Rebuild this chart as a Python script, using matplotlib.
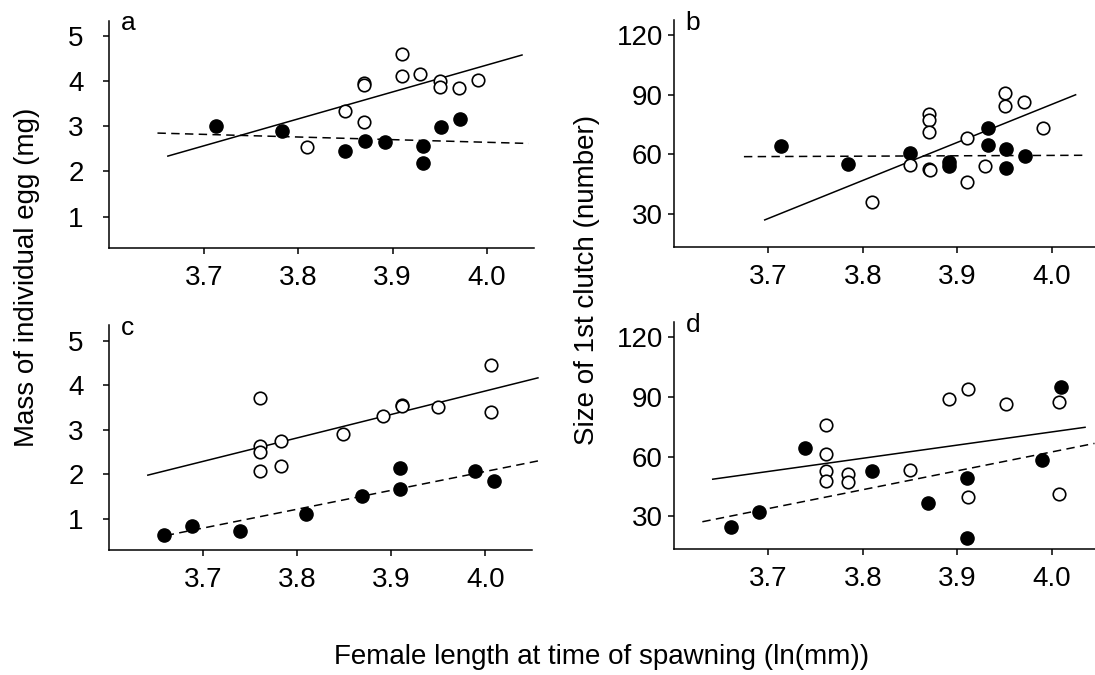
import matplotlib
matplotlib.use('Agg')
import matplotlib.pyplot as plt

plt.rcParams['font.family'] = ['Liberation Sans', 'DejaVu Sans']

# values
a_open_x = [3.809, 3.850, 3.870, 3.870, 3.870, 3.910, 3.910, 3.929, 3.950, 3.950, 3.970, 3.990]
a_open_y = [2.55, 3.34, 3.10, 3.97, 3.92, 4.61, 4.12, 4.15, 4.00, 3.87, 3.84, 4.03]
a_fill_x = [3.713, 3.783, 3.850, 3.871, 3.892, 3.932, 3.932, 3.951, 3.971]
a_fill_y = [3.00, 2.90, 2.45, 2.68, 2.66, 2.57, 2.18, 2.99, 3.16]
a_fit_open = ([3.662, 4.037], [2.34, 4.58])
a_fit_fill = ([3.651, 4.044], [2.85, 2.62])

b_open_x = [3.810, 3.850, 3.870, 3.870, 3.870, 3.870, 3.871, 3.910, 3.910, 3.929, 3.950, 3.950, 3.970, 3.990]
b_open_y = [36.2, 54.9, 80.4, 77.4, 71.3, 52.7, 52.3, 68.1, 46.0, 54.4, 90.8, 84.4, 86.4, 73.3]
b_fill_x = [3.713, 3.784, 3.850, 3.891, 3.891, 3.932, 3.932, 3.951, 3.951, 3.971]
b_fill_y = [64.3, 55.0, 60.7, 56.4, 54.4, 73.5, 64.9, 62.6, 53.0, 59.1]
b_fit_open = ([3.696, 4.025], [27.0, 90.1])
b_fit_fill = ([3.674, 4.036], [58.9, 59.6])

c_open_x = [3.760, 3.760, 3.760, 3.760, 3.783, 3.783, 3.849, 3.891, 3.911, 3.911, 3.950, 4.006, 4.006]
c_open_y = [3.71, 2.64, 2.50, 2.07, 2.74, 2.18, 2.91, 3.32, 3.57, 3.54, 3.51, 4.45, 3.40]
c_fill_x = [3.658, 3.688, 3.739, 3.809, 3.869, 3.909, 3.909, 3.989, 4.009]
c_fill_y = [0.63, 0.84, 0.73, 1.11, 1.52, 2.13, 1.66, 2.08, 1.85]
c_fit_open = ([3.641, 4.056], [1.98, 4.17])
c_fit_fill = ([3.660, 4.056], [0.62, 2.30])

d_open_x = [3.761, 3.761, 3.761, 3.761, 3.784, 3.784, 3.850, 3.891, 3.911, 3.911, 3.951, 4.007, 4.007]
d_open_y = [76.0, 61.1, 52.5, 47.8, 51.3, 47.3, 53.2, 88.9, 94.1, 39.6, 86.4, 87.3, 41.4]
d_fill_x = [3.660, 3.690, 3.739, 3.810, 3.869, 3.910, 3.910, 3.989, 4.010]
d_fill_y = [24.5, 32.2, 64.3, 52.5, 36.4, 49.3, 18.8, 58.4, 94.8]
d_fit_open = ([3.641, 4.035], [48.6, 74.7])
d_fit_fill = ([3.630, 4.045], [27.2, 66.6])

x_ticks = [3.7, 3.8, 3.9, 4.0]
mass_ticks = [1, 2, 3, 4, 5]
clutch_ticks = [30, 60, 90, 120]

W, H = 1095, 675
fig = plt.figure(figsize=(W / 100, H / 100), dpi=100)


def rect(l, r, t, b):
    return [l / W, 1 - b / H, (r - l) / W, (b - t) / H]


def panel(box, letter, ox, oy, fx, fy, fit_o, fit_f, yticks, ylim, xmax, ypad, lx, ly):
    ax = fig.add_axes(rect(*box))
    ax.plot(*fit_o, color='black', lw=1.1, clip_on=False)
    ax.plot(*fit_f, color='black', lw=1.1, ls=(0, (5.5, 3.5)), clip_on=False)
    ax.plot(fx, fy, 'o', ms=9.5, mfc='black', mec='black', clip_on=False)
    ax.plot(ox, oy, 'o', ms=9, mfc='white', mec='black', mew=1.2, clip_on=False)
    ax.set_xlim(3.6, xmax)
    ax.set_ylim(*ylim)
    ax.set_xticks(x_ticks)
    ax.set_xticklabels([f'{v:.1f}' for v in x_ticks])
    ax.set_yticks(yticks)
    for s in ('top', 'right'):
        ax.spines[s].set_visible(False)
    for s in ('left', 'bottom'):
        ax.spines[s].set_linewidth(1.1)
    ax.tick_params(axis='both', direction='out', length=4.5, width=1.1, labelsize=20)
    ax.tick_params(axis='x', pad=8)
    ax.tick_params(axis='y', pad=ypad)
    ax.annotate(letter, xy=(0, 1), xycoords='axes fraction',
                xytext=(lx, ly), textcoords='offset points',
                fontsize=19, va='baseline', ha='left')
    return ax


panel((109.3, 534.3, 20.7, 247.7), 'a', a_open_x, a_open_y, a_fill_x, a_fill_y,
      a_fit_open, a_fit_fill, mass_ticks, (0.31, 5.34), 4.05, 14, 8.5, -7)
panel((674, 1094.5, 20, 246.7), 'b', b_open_x, b_open_y, b_fill_x, b_fill_y,
      b_fit_open, b_fit_fill, clutch_ticks, (13.5, 127.8), 4.045, 3.5, 8.5, -7)
panel((109.3, 532.3, 325, 550), 'c', c_open_x, c_open_y, c_fill_x, c_fill_y,
      c_fit_open, c_fit_fill, mass_ticks, (0.295, 5.36), 4.05, 14, 8.5, -7)
panel((674, 1094.5, 321.7, 549), 'd', d_open_x, d_open_y, d_fill_x, d_fill_y,
      d_fit_open, d_fit_fill, clutch_ticks, (13.5, 127.8), 4.045, 3.5, 8.5, -7.5)

fig.text(27 / W, 1 - 277 / H, 'Mass of individual egg (mg)', rotation=90,
         fontsize=20, ha='center', va='center')
fig.text(587 / W, 1 - 280 / H, 'Size of 1st clutch (number)', rotation=90,
         fontsize=20, ha='center', va='center')
fig.text(602 / W, 1 - 657 / H, 'Female length at time of spawning (ln(mm))',
         fontsize=20, ha='center', va='center')

fig.savefig('out.png', dpi=100)
plt.close(fig)
